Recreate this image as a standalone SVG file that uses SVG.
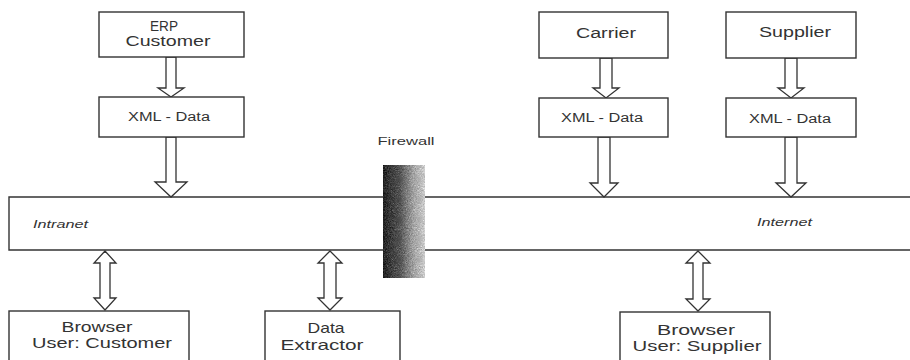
<svg xmlns="http://www.w3.org/2000/svg" width="910" height="360" viewBox="0 0 910 360">
<style>
.box{fill:#fff;stroke:#333;stroke-width:1.4}
.net{fill:none;stroke:#333;stroke-width:1.4}
.arr{fill:#fff;stroke:#333;stroke-width:1.3;stroke-linejoin:miter}
text{font-family:"Liberation Sans",Arial,sans-serif;fill:#333;text-anchor:middle}
.t14{font-size:14px}
.t12{font-size:12px}
.t15{font-size:15px}
.lbl{font-size:10px}
.it{font-size:11px;font-style:italic;text-anchor:start}
</style>
<defs>
<linearGradient id="fwg" x1="0" y1="0" x2="1" y2="0">
<stop offset="0" stop-color="#4a4a4a"/>
<stop offset="0.4" stop-color="#7e7e7e"/>
<stop offset="0.75" stop-color="#cfcfcf"/>
<stop offset="1" stop-color="#f6f6f6"/>
</linearGradient>
<filter id="speckle" x="0" y="0" width="1" height="1" color-interpolation-filters="sRGB">
<feTurbulence type="fractalNoise" baseFrequency="0.95" numOctaves="2" seed="4" result="n"/>
<feColorMatrix in="n" type="saturate" values="0" result="g"/>
<feComposite in="SourceGraphic" in2="g" operator="arithmetic" k1="0" k2="1" k3="0.8" k4="-0.4" result="c"/>
<feComposite in="c" in2="SourceGraphic" operator="in"/>
</filter>
</defs>

<g id="connectors">
<path class="arr" d="M166,57 V88 H158 L171,97 L184,88 H176 V57 Z"/>
<path class="arr" d="M166,137 V182 H155 L171,197 L187,182 H176 V137 Z"/>
<path class="arr" d="M600,58 V88 H593 L606,98 L619,88 H612 V58 Z"/>
<path class="arr" d="M598,137 V183 H590 L604,197 L618,183 H610 V137 Z"/>
<path class="arr" d="M785,58 V88 H778 L791,98 L804,88 H797 V58 Z"/>
<path class="arr" d="M785,137 V183 H776 L791,197 L806,183 H797 V137 Z"/>
<path class="arr" d="M105,251 L116,263 H110 V298 H116 L105,310 L94,298 H100 V263 H94 Z"/>
<path class="arr" d="M330,251 L342,263 H336 V298 H342 L330,310 L318,298 H324 V263 H318 Z"/>
<path class="arr" d="M698,251 L710,263 H703 V299 H710 L698,311 L686,299 H693 V263 H686 Z"/>
</g>

<g id="intranet">
<path class="net" d="M384,197 H9 V250 H384"/>
<text class="it" x="33" y="228" textLength="55" lengthAdjust="spacingAndGlyphs">Intranet</text>
</g>

<g id="internet">
<path class="net" d="M425,197 H910 M425,250 H910"/>
<text class="it" x="757" y="226" textLength="55" lengthAdjust="spacingAndGlyphs">Internet</text>
</g>

<g id="firewall">
<text class="lbl" x="406" y="145" textLength="57" lengthAdjust="spacingAndGlyphs">Firewall</text>
<rect x="383" y="165" width="42" height="113" fill="url(#fwg)" filter="url(#speckle)"/>
</g>

<g id="erp-customer">
<rect class="box" x="99" y="12" width="145" height="45"/>
<text class="t14" x="164" y="31" textLength="28" lengthAdjust="spacingAndGlyphs">ERP</text>
<text class="t14" x="168" y="46" textLength="85" lengthAdjust="spacingAndGlyphs">Customer</text>
</g>

<g id="xml-customer">
<rect class="box" x="99" y="97" width="145" height="40"/>
<text class="t12" x="169" y="121" textLength="82" lengthAdjust="spacingAndGlyphs">XML - Data</text>
</g>

<g id="carrier">
<rect class="box" x="539" y="12" width="129" height="46"/>
<text class="t14" x="606" y="38" textLength="60" lengthAdjust="spacingAndGlyphs">Carrier</text>
</g>

<g id="xml-carrier">
<rect class="box" x="539" y="98" width="129" height="39"/>
<text class="t12" x="602" y="122" textLength="82" lengthAdjust="spacingAndGlyphs">XML - Data</text>
</g>

<g id="supplier">
<rect class="box" x="726" y="12" width="130" height="46"/>
<text class="t14" x="795" y="37" textLength="72" lengthAdjust="spacingAndGlyphs">Supplier</text>
</g>

<g id="xml-supplier">
<rect class="box" x="726" y="98" width="130" height="39"/>
<text class="t12" x="790" y="123" textLength="82" lengthAdjust="spacingAndGlyphs">XML - Data</text>
</g>

<g id="browser-customer">
<rect class="box" x="9" y="311" width="180" height="60"/>
<text class="t15" x="97" y="332" textLength="71" lengthAdjust="spacingAndGlyphs">Browser</text>
<text class="t15" x="102" y="348" textLength="140" lengthAdjust="spacingAndGlyphs">User: Customer</text>
</g>

<g id="data-extractor">
<rect class="box" x="265" y="311" width="135" height="60"/>
<text class="t15" x="326" y="333" textLength="37" lengthAdjust="spacingAndGlyphs">Data</text>
<text class="t15" x="322" y="350" textLength="83" lengthAdjust="spacingAndGlyphs">Extractor</text>
</g>

<g id="browser-supplier">
<rect class="box" x="620" y="312" width="150" height="60"/>
<text class="t15" x="696" y="335" textLength="78" lengthAdjust="spacingAndGlyphs">Browser</text>
<text class="t15" x="697" y="351" textLength="129" lengthAdjust="spacingAndGlyphs">User: Supplier</text>
</g>
</svg>
